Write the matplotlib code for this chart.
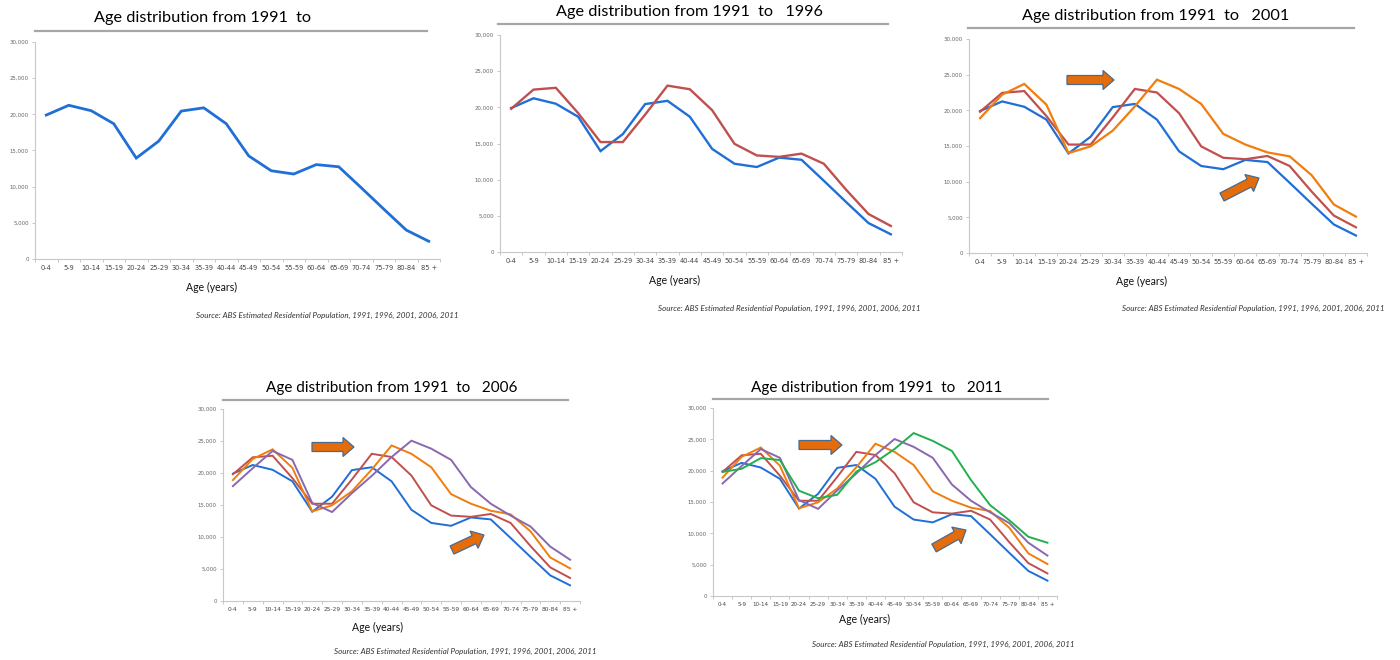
import matplotlib.pyplot as plt
import numpy as np
from matplotlib.patches import Polygon
from matplotlib.lines import Line2D

# data
ages = ['0-4', '5-9', '10-14', '15-19', '20-24', '25-29', '30-34', '35-39', '40-44',
        '45-49', '50-54', '55-59', '60-64', '65-69', '70-74', '75-79', '80-84', '85 +']
pop_1991 = [19900, 21250, 20500, 18700, 13950, 16300, 20450, 20900, 18700,
            14250, 12200, 11750, 13050, 12750, 9850, 6900, 4000, 2450]
pop_1996 = [19800, 22450, 22700, 19200, 15200, 15200, 19000, 23000, 22500,
            19600, 14950, 13350, 13150, 13600, 12200, 8600, 5250, 3600]
pop_2001 = [18900, 22200, 23700, 20800, 14000, 14950, 17150, 20550, 24300,
            23000, 20900, 16700, 15200, 14100, 13550, 10900, 6800, 5100]
pop_2006 = [17950, 20750, 23450, 22050, 15300, 13900, 16850, 19550, 22500,
            25050, 23800, 22050, 17800, 15200, 13350, 11650, 8500, 6450]
pop_2011 = [19800, 20300, 22000, 21700, 16800, 15600, 16150, 19850, 21350,
            23450, 26000, 24750, 23150, 18500, 14500, 12100, 9450, 8500]
years = ['1991', '1996', '2001', '2006', '2011']
series = [pop_1991, pop_1996, pop_2001, pop_2006, pop_2011]
colors = ['#1f6fd6', '#c0504d', '#f07d0c', '#8a68b0', '#22b04e']
yticks = [0, 5000, 10000, 15000, 20000, 25000, 30000]
source = 'Source: ABS Estimated Residential Population, 1991, 1996, 2001, 2006, 2011'

W, H = 1400, 660
fig = plt.figure(figsize=(W / 100, H / 100), dpi=100)
fig.patch.set_facecolor('white')


def fx(x):
    return x / W


def fy(y):
    return 1 - y / H


def arrow(x0, y0, x1, y1, bw=4.5, hw=9.5, hl=11):
    # arrow polygon in pixel coords (y down), converted to figure fraction
    d = np.array([x1 - x0, y1 - y0], float)
    L = np.hypot(*d)
    u = d / L
    n = np.array([-u[1], u[0]])
    p0 = np.array([x0, y0], float)
    b = p0 + u * (L - hl)
    pts = [p0 + n * bw, b + n * bw, b + n * hw, np.array([x1, y1], float),
           b - n * hw, b - n * bw, p0 - n * bw]
    pts = [(fx(p[0]), fy(p[1])) for p in pts]
    fig.patches.append(Polygon(pts, closed=True, transform=fig.transFigure,
                               facecolor='#e46c0a', edgecolor='#4a6a90', lw=0.9))


# panels: (n series, axes box l,r,t,b, title center, underline x0,x1,y, xlabel pos, source pos,
#          title suffix, line width, x tick size, title size)
panels = [
    (1, (35, 440, 42, 259), (202, 18), (35, 427, 31), (212, 287), (458, 315), '', 2.0, 4.8, 11.7),
    (2, (500, 902, 35, 252), (690, 12), (498, 888, 24), (675, 280), (920, 308), '   1996', 1.7, 4.8, 11.7),
    (3, (969, 1367, 39, 253), (1156, 16), (968, 1354, 28), (1142, 281), (1385, 308), '   2001', 1.6, 4.8, 11.7),
    (4, (223, 580, 409, 601), (392, 388), (223, 568, 400), (378, 627), (597, 651), '   2006', 1.4, 4.2, 11.0),
    (5, (713, 1057, 408, 596), (877, 388), (713, 1048, 399), (865, 619), (1075, 644), '   2011', 1.4, 4.0, 11.0),
]

x = np.arange(len(ages))
for n, (l, r, t, b), (tx, ty), (ux0, ux1, uy), (lx, ly), (sx, sy), suffix, lw, xts, tts in panels:
    ax = fig.add_axes([fx(l), fy(b), (r - l) / W, (b - t) / H])
    for i in range(n):
        ax.plot(x, series[i], color=colors[i], lw=lw, solid_joinstyle='miter')
    ax.set_xlim(-0.5, len(ages) - 0.5)
    ax.set_ylim(0, 30000)
    ax.set_yticks(yticks)
    ax.set_yticklabels([f'{v:,}' for v in yticks])
    ax.set_xticks(np.arange(-0.5, len(ages)), minor=False)
    ax.set_xticklabels([])
    ax.set_xticks(x, minor=True)
    ax.set_xticklabels(ages, minor=True)
    ax.tick_params(axis='x', which='major', length=2.5, width=0.6, color='#bfbfbf')
    ax.tick_params(axis='x', which='minor', length=0, pad=4, labelsize=xts, labelcolor='#444444')
    ax.tick_params(axis='y', length=2.5, width=0.6, color='#bfbfbf', labelsize=3.9,
                   labelcolor='#666666', pad=2)
    for s in ['top', 'right']:
        ax.spines[s].set_visible(False)
    for s in ['left', 'bottom']:
        ax.spines[s].set_color('#c8c8c8')
        ax.spines[s].set_linewidth(0.8)
    ax.set_facecolor('none')

    fig.text(fx(tx), fy(ty), 'Age distribution from 1991  to' + suffix, ha='center', va='center',
             fontsize=tts, family='Lato', color='#000000')
    fig.add_artist(Line2D([fx(ux0), fx(ux1)], [fy(uy), fy(uy)], color='#a6a6a6', lw=1.6,
                          transform=fig.transFigure))
    fig.text(fx(lx), fy(ly), 'Age (years)', ha='center', va='center', fontsize=7.6,
             family='Lato', color='#111111')
    fig.text(fx(sx), fy(sy), source, ha='right', va='center', fontsize=5.8,
             family='Lato', style='italic', color='#333333')

# shift arrows
arrow(1067, 80, 1114, 80)
arrow(1222, 197, 1259, 178)
arrow(312, 447, 354, 447)
arrow(452, 550, 484, 535)
arrow(799, 445, 842, 445)
arrow(934, 548, 966, 530)

fig.savefig('out.png', dpi=100, facecolor='white')
